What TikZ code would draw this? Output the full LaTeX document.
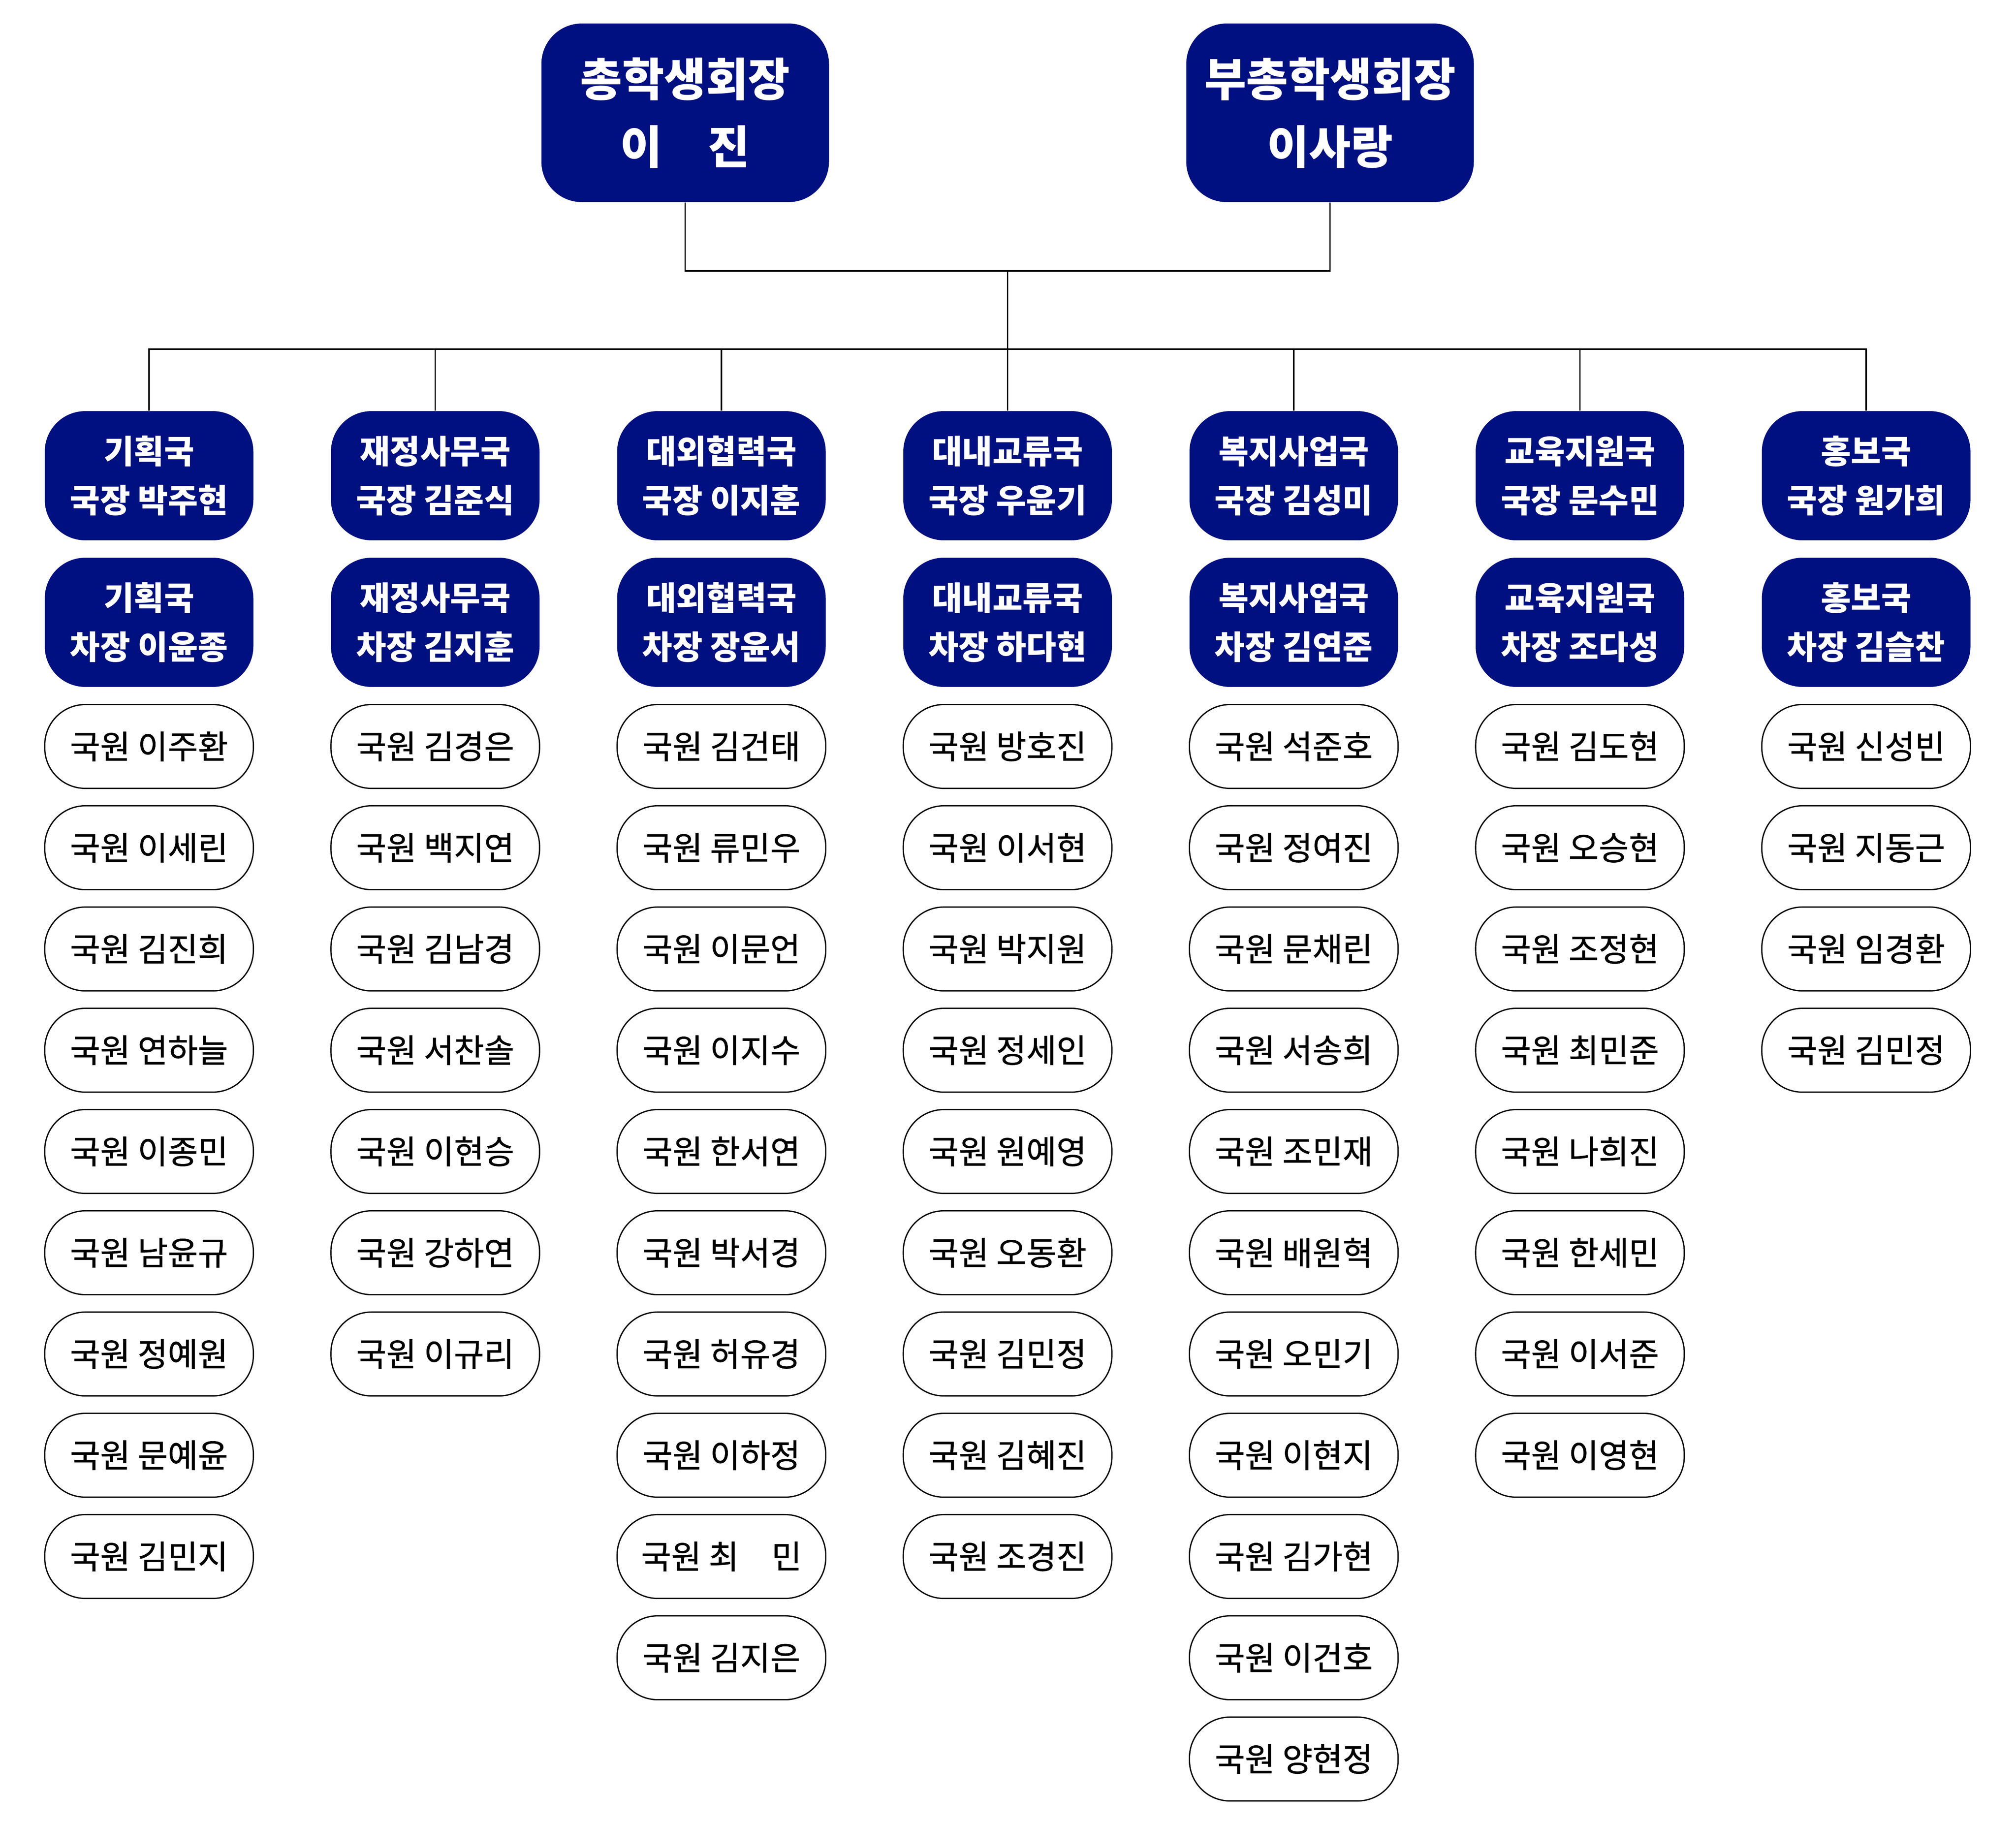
\documentclass[tikz,border=0pt]{standalone}
\usepackage{fontspec}
\setmainfont{Noto Sans CJK KR}
\newfontfamily\memberfont{Noto Sans CJK KR}[FakeBold=0.8]
\definecolor{navyblue}{RGB}{0,16,128}
\begin{document}
\begin{tikzpicture}[
  head/.style={fill=navyblue, text=white, rounded corners=1cm, minimum width=7.1cm, minimum height=4.41cm, align=center, font=\fontsize{32}{47.5}\selectfont\bfseries},
  chief/.style={fill=navyblue, text=white, rounded corners=1cm, minimum width=5.15cm, minimum height=3.19cm, align=center, font=\fontsize{23}{34.5}\selectfont\bfseries},
  member/.style={draw, line width=0.9pt, rounded corners=1cm, minimum width=5.15cm, minimum height=2.07cm, font=\fontsize{23}{27}\selectfont\memberfont},
  link/.style={line width=1.1pt}
]
\fill[white] (0,0) rectangle (49.77,-45);
\useasboundingbox (0,0) rectangle (49.77,-45);
% top
\node[head] (pres) at (16.915,-2.785) {총학생회장\\이　진};
\node[head] (vice) at (32.835,-2.785) {부총학생회장\\이사랑};
% departments
\node[chief] (d1) at (3.68,-11.745) {기획국\\국장 박주현};
\node[chief] (d2) at (10.745,-11.745) {재정사무국\\국장 김준식};
\node[chief] (d3) at (17.81,-11.745) {대외협력국\\국장 이지훈};
\node[chief] (d4) at (24.875,-11.745) {대내교류국\\국장 우윤기};
\node[chief] (d5) at (31.94,-11.745) {복지사업국\\국장 김성미};
\node[chief] (d6) at (39.005,-11.745) {교육지원국\\국장 문수민};
\node[chief] (d7) at (46.07,-11.745) {홍보국\\국장 원가희};
\node[chief] (v1) at (3.68,-15.365) {기획국\\차장 이윤종};
\node[chief] (v2) at (10.745,-15.365) {재정사무국\\차장 김지훈};
\node[chief] (v3) at (17.81,-15.365) {대외협력국\\차장 장윤서};
\node[chief] (v4) at (24.875,-15.365) {대내교류국\\차장 하다현};
\node[chief] (v5) at (31.94,-15.365) {복지사업국\\차장 김연준};
\node[chief] (v6) at (39.005,-15.365) {교육지원국\\차장 조다성};
\node[chief] (v7) at (46.07,-15.365) {홍보국\\차장 김슬찬};
% 기획국
\node[member] (m1-1) at (3.68,-18.43) {국원 이주환};
\node[member] (m1-2) at (3.68,-20.93) {국원 이세린};
\node[member] (m1-3) at (3.68,-23.43) {국원 김진희};
\node[member] (m1-4) at (3.68,-25.93) {국원 연하늘};
\node[member] (m1-5) at (3.68,-28.43) {국원 이종민};
\node[member] (m1-6) at (3.68,-30.93) {국원 남윤규};
\node[member] (m1-7) at (3.68,-33.43) {국원 정예원};
\node[member] (m1-8) at (3.68,-35.93) {국원 문예윤};
\node[member] (m1-9) at (3.68,-38.43) {국원 김민지};
% 재정사무국
\node[member] (m2-1) at (10.745,-18.43) {국원 김경은};
\node[member] (m2-2) at (10.745,-20.93) {국원 백지연};
\node[member] (m2-3) at (10.745,-23.43) {국원 김남경};
\node[member] (m2-4) at (10.745,-25.93) {국원 서찬솔};
\node[member] (m2-5) at (10.745,-28.43) {국원 이현승};
\node[member] (m2-6) at (10.745,-30.93) {국원 강하연};
\node[member] (m2-7) at (10.745,-33.43) {국원 이규리};
% 대외협력국
\node[member] (m3-1) at (17.81,-18.43) {국원 김건태};
\node[member] (m3-2) at (17.81,-20.93) {국원 류민우};
\node[member] (m3-3) at (17.81,-23.43) {국원 이문언};
\node[member] (m3-4) at (17.81,-25.93) {국원 이지수};
\node[member] (m3-5) at (17.81,-28.43) {국원 한서연};
\node[member] (m3-6) at (17.81,-30.93) {국원 박서경};
\node[member] (m3-7) at (17.81,-33.43) {국원 허유경};
\node[member] (m3-8) at (17.81,-35.93) {국원 이하정};
\node[member] (m3-9) at (17.81,-38.43) {국원 최　민};
\node[member] (m3-10) at (17.81,-40.93) {국원 김지은};
% 대내교류국
\node[member] (m4-1) at (24.875,-18.43) {국원 방호진};
\node[member] (m4-2) at (24.875,-20.93) {국원 이서현};
\node[member] (m4-3) at (24.875,-23.43) {국원 박지원};
\node[member] (m4-4) at (24.875,-25.93) {국원 정세인};
\node[member] (m4-5) at (24.875,-28.43) {국원 원예영};
\node[member] (m4-6) at (24.875,-30.93) {국원 오동환};
\node[member] (m4-7) at (24.875,-33.43) {국원 김민정};
\node[member] (m4-8) at (24.875,-35.93) {국원 김혜진};
\node[member] (m4-9) at (24.875,-38.43) {국원 조경진};
% 복지사업국
\node[member] (m5-1) at (31.94,-18.43) {국원 석준호};
\node[member] (m5-2) at (31.94,-20.93) {국원 정여진};
\node[member] (m5-3) at (31.94,-23.43) {국원 문채린};
\node[member] (m5-4) at (31.94,-25.93) {국원 서송희};
\node[member] (m5-5) at (31.94,-28.43) {국원 조민재};
\node[member] (m5-6) at (31.94,-30.93) {국원 배원혁};
\node[member] (m5-7) at (31.94,-33.43) {국원 오민기};
\node[member] (m5-8) at (31.94,-35.93) {국원 이현지};
\node[member] (m5-9) at (31.94,-38.43) {국원 김가현};
\node[member] (m5-10) at (31.94,-40.93) {국원 이건호};
\node[member] (m5-11) at (31.94,-43.43) {국원 양현정};
% 교육지원국
\node[member] (m6-1) at (39.005,-18.43) {국원 김도현};
\node[member] (m6-2) at (39.005,-20.93) {국원 오승현};
\node[member] (m6-3) at (39.005,-23.43) {국원 조정현};
\node[member] (m6-4) at (39.005,-25.93) {국원 최민준};
\node[member] (m6-5) at (39.005,-28.43) {국원 나희진};
\node[member] (m6-6) at (39.005,-30.93) {국원 한세민};
\node[member] (m6-7) at (39.005,-33.43) {국원 이서준};
\node[member] (m6-8) at (39.005,-35.93) {국원 이영현};
% 홍보국
\node[member] (m7-1) at (46.07,-18.43) {국원 신성빈};
\node[member] (m7-2) at (46.07,-20.93) {국원 지동근};
\node[member] (m7-3) at (46.07,-23.43) {국원 임경환};
\node[member] (m7-4) at (46.07,-25.93) {국원 김민정};
% lines
\coordinate (join) at (24.875,-6.69);
\coordinate (bus) at (24.875,-8.62);
\draw[link] (pres.south) |- (join) -| (vice.south);
\draw[link] (join) -- (d4.north);
\draw[link] (d1.north) |- (bus) -| (d7.north);
\draw[link] (d2.north) -- (d2.north |- bus);
\draw[link] (d3.north) -- (d3.north |- bus);
\draw[link] (d5.north) -- (d5.north |- bus);
\draw[link] (d6.north) -- (d6.north |- bus);
\end{tikzpicture}
\end{document}
